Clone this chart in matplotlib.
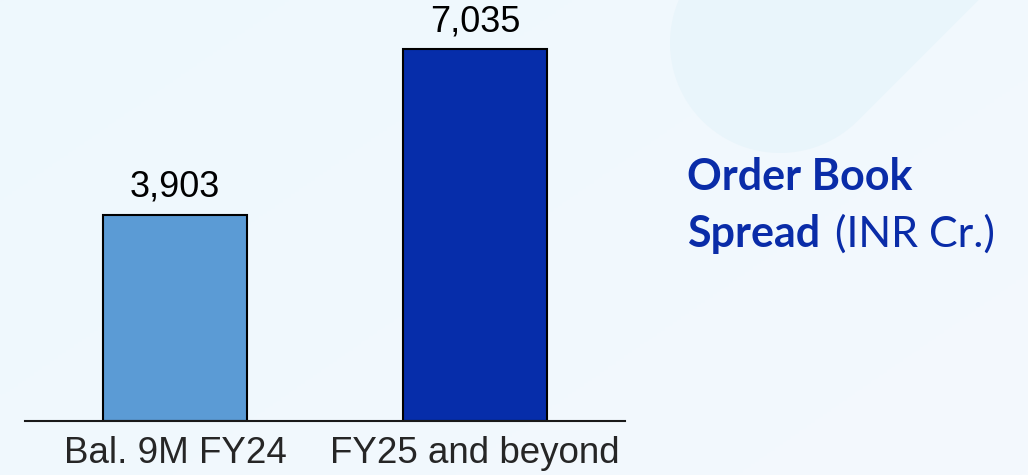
import matplotlib.pyplot as plt
import numpy as np
from matplotlib.patches import Polygon
from matplotlib.colors import LinearSegmentedColormap

categories = ['Bal. 9M FY24', 'FY25 and beyond']
values = [3903, 7035]
bar_colors = ['#5b9bd5', '#062daa']


def main():
    W, H = 1028, 475
    fig = plt.figure(figsize=(W / 100, H / 100), dpi=100)
    fig.patch.set_facecolor('#f0f8fd')

    # soft background in pixel coords (y up): gradient plus a faint capsule top right
    bg = fig.add_axes([0, 0, 1, 1], zorder=-2)
    grad = np.linspace(0, 1, 256)
    gx, gy = np.meshgrid(grad, grad)
    cmap = LinearSegmentedColormap.from_list('bg', ['#eef8fd', '#f4f9fe'])
    bg.imshow(gx * 0.6 + gy * 0.4, cmap=cmap, extent=[0, W, 0, H], aspect='auto', origin='upper')
    cx, cy, R = 780, 432, 110
    th = np.radians(np.linspace(135, 315, 60))
    arc = np.column_stack([cx + R * np.cos(th), cy + R * np.sin(th)])
    far = 400
    tail = np.array([[arc[-1, 0] + far, arc[-1, 1] + far], [arc[0, 0] + far, arc[0, 1] + far]])
    bg.add_patch(Polygon(np.vstack([arc, tail]), closed=True, facecolor='#e9f5fb', edgecolor='none'))
    bg.set_xlim(0, W)
    bg.set_ylim(0, H)
    bg.axis('off')

    ax = fig.add_axes([25 / W, 54 / H, 600 / W, 411 / H])
    ax.patch.set_alpha(0)
    x = np.arange(len(categories))
    bars = ax.bar(x, values, width=0.477, color=bar_colors, edgecolor='black', linewidth=1.5)
    for b, v in zip(bars, values):
        ax.annotate(f'{v:,}', (b.get_x() + b.get_width() / 2, v), xytext=(0, 7),
                    textcoords='offset points', ha='center', va='bottom',
                    fontsize=26, family='Liberation Sans', color='black')

    ax.set_xlim(-0.5, 1.5)
    ax.set_ylim(0, 7035 * 411 / 372)
    ax.set_xticks(x)
    ax.set_xticklabels(categories, fontsize=26.5, family='Liberation Sans', color='#262626')
    ax.tick_params(axis='x', length=0, pad=11)
    ax.set_yticks([])
    for s in ['top', 'left', 'right']:
        ax.spines[s].set_visible(False)
    ax.spines['bottom'].set_linewidth(1.5)
    ax.spines['bottom'].set_color('#1a1a1a')

    # side title
    fs = 31
    fig.text(687 / W, 1 - 190 / H, 'Order Book', fontsize=fs, fontweight='bold',
             family='Lato', color='#0a2ca8', ha='left', va='baseline')
    t = fig.text(687 / W, 1 - 247 / H, 'Spread', fontsize=fs, fontweight='bold',
                 family='Lato', color='#0a2ca8', ha='left', va='baseline')
    fig.canvas.draw()
    bb = t.get_window_extent()
    fig.text((bb.x1 + 15) / W, 1 - 247 / H, '(INR Cr.)', fontsize=fs,
             family='Lato', color='#0a2ca8', ha='left', va='baseline')

    fig.savefig('out.png', dpi=100, facecolor=fig.get_facecolor())


if __name__ == '__main__':
    main()
